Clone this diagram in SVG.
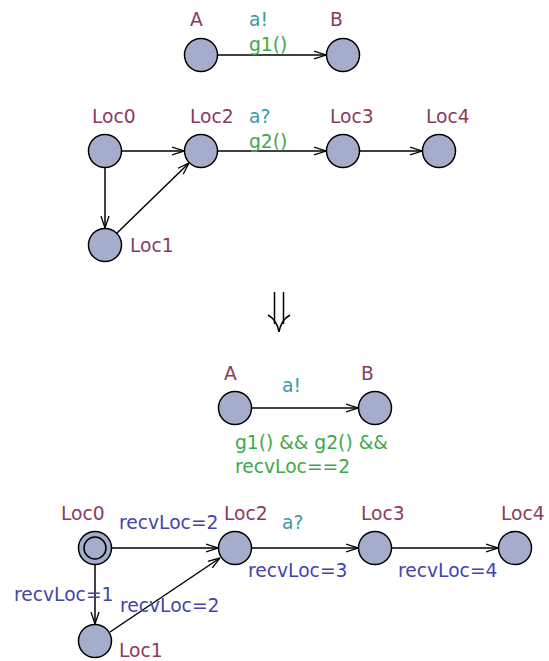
<svg xmlns="http://www.w3.org/2000/svg" width="549" height="661" viewBox="0 0 549 661">
  <style>
    text { font-family: "DejaVu Sans", sans-serif; font-size: 18.7px; }
    .loc { fill: #a5adcc; stroke: #000; stroke-width: 1.5; }
    .name { fill: #8b3a62; }
    .sync { fill: #3a9aa8; }
    .guard { fill: #3da84a; }
    .assign { fill: #4444aa; }
    .edge { fill: none; stroke: #000; stroke-width: 1.5; }
  </style>
  <defs>
    <marker id="arrow" viewBox="0 0 12 10" refX="12" refY="5" markerWidth="12" markerHeight="10" markerUnits="userSpaceOnUse" orient="auto">
      <path d="M0,1 L12,5 L0,9" fill="none" stroke="#000" stroke-width="1.3"/>
    </marker>
  </defs>

  <rect width="549" height="661" fill="#fff"/>

  <!-- connectors -->
  <g id="edges">
    <line class="edge" x1="218" y1="55" x2="326" y2="55" marker-end="url(#arrow)"/>
    <line class="edge" x1="122" y1="151" x2="184" y2="151" marker-end="url(#arrow)"/>
    <line class="edge" x1="105" y1="168" x2="105" y2="228" marker-end="url(#arrow)"/>
    <line class="edge" x1="117" y1="233" x2="189" y2="163" marker-end="url(#arrow)"/>
    <line class="edge" x1="218" y1="151" x2="326" y2="151" marker-end="url(#arrow)"/>
    <line class="edge" x1="360" y1="151" x2="422" y2="151" marker-end="url(#arrow)"/>

    <line class="edge" x1="252" y1="408" x2="358" y2="408" marker-end="url(#arrow)"/>
    <line class="edge" x1="112" y1="548" x2="218" y2="548" marker-end="url(#arrow)"/>
    <line class="edge" x1="95" y1="565" x2="95" y2="624" marker-end="url(#arrow)"/>
    <line class="edge" x1="110" y1="632" x2="220" y2="558" marker-end="url(#arrow)"/>
    <line class="edge" x1="252" y1="548" x2="358" y2="548" marker-end="url(#arrow)"/>
    <line class="edge" x1="392" y1="548" x2="498" y2="548" marker-end="url(#arrow)"/>
  </g>

  <!-- edge labels -->
  <g id="edge-labels">
    <text class="sync" x="249" y="26">a!</text>
    <text class="guard" x="249" y="51">g1()</text>
    <text class="sync" x="249" y="123">a?</text>
    <text class="guard" x="249" y="148">g2()</text>

    <text class="sync" x="282" y="392">a!</text>
    <text class="guard" x="235" y="449">g1() &amp;&amp; g2() &amp;&amp;</text>
    <text class="guard" x="235" y="472.5">recvLoc==2</text>

    <text class="assign" x="119" y="529">recvLoc=2</text>
    <text class="sync" x="282" y="529">a?</text>
    <text class="assign" x="248" y="577">recvLoc=3</text>
    <text class="assign" x="398" y="577">recvLoc=4</text>
    <text class="assign" x="14" y="600.5">recvLoc=1</text>
    <text class="assign" x="120" y="612">recvLoc=2</text>
  </g>

  <!-- transformation arrow -->
  <g id="implies">
    <line x1="274.5" y1="292" x2="274.5" y2="324" stroke="#000" stroke-width="1.5"/>
    <line x1="283.5" y1="292" x2="283.5" y2="324" stroke="#000" stroke-width="1.5"/>
    <path d="M268,315 Q277,320 279,332 Q281,320 290,315" fill="none" stroke="#000" stroke-width="1.5"/>
  </g>

  <!-- first process -->
  <g id="A1"><circle class="loc" cx="201" cy="55" r="16.5"/><text class="name" x="190" y="26">A</text></g>
  <g id="B1"><circle class="loc" cx="343" cy="55" r="16.5"/><text class="name" x="330" y="26">B</text></g>

  <!-- second process -->
  <g id="Loc0a"><circle class="loc" cx="105" cy="151" r="16.5"/><text class="name" x="92" y="123">Loc0</text></g>
  <g id="Loc2a"><circle class="loc" cx="201" cy="151" r="16.5"/><text class="name" x="190" y="123">Loc2</text></g>
  <g id="Loc3a"><circle class="loc" cx="343" cy="151" r="16.5"/><text class="name" x="330" y="123">Loc3</text></g>
  <g id="Loc4a"><circle class="loc" cx="439" cy="151" r="16.5"/><text class="name" x="426" y="123">Loc4</text></g>
  <g id="Loc1a"><circle class="loc" cx="105" cy="245" r="16.5"/><text class="name" x="130" y="252">Loc1</text></g>

  <!-- transformed first process -->
  <g id="A2"><circle class="loc" cx="235" cy="408" r="16.5"/><text class="name" x="224" y="380">A</text></g>
  <g id="B2"><circle class="loc" cx="375" cy="408" r="16.5"/><text class="name" x="361" y="380">B</text></g>

  <!-- transformed second process -->
  <g id="Loc0b"><circle class="loc" cx="95" cy="548" r="16.5"/><circle class="loc" cx="95" cy="548" r="11"/><text class="name" x="61" y="520">Loc0</text></g>
  <g id="Loc2b"><circle class="loc" cx="235" cy="548" r="16.5"/><text class="name" x="224" y="520">Loc2</text></g>
  <g id="Loc3b"><circle class="loc" cx="375" cy="548" r="16.5"/><text class="name" x="361" y="520">Loc3</text></g>
  <g id="Loc4b"><circle class="loc" cx="515" cy="548" r="16.5"/><text class="name" x="501" y="520">Loc4</text></g>
  <g id="Loc1b"><circle class="loc" cx="95" cy="641" r="16.5"/><text class="name" x="119" y="657">Loc1</text></g>
</svg>
